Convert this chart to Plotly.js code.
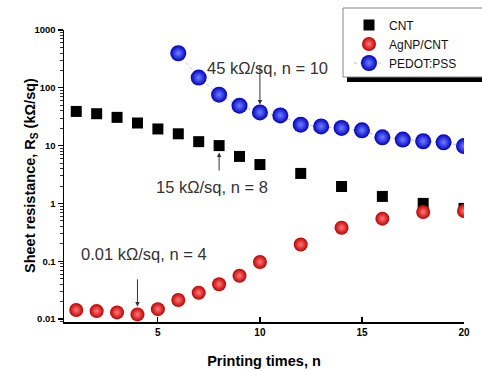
<!DOCTYPE html>
<html>
<head>
<meta charset="utf-8">
<script src="https://cdn.plot.ly/plotly-3.0.1.min.js"></script>
<style>html,body{margin:0;padding:0;background:#fff;}#chart{width:482px;height:371px;}</style>
</head>
<body>
<div id="chart"></div>
<script>
// Data
const xCNT = [1, 2, 3, 4, 5, 6, 7, 8, 9, 10, 12, 14, 16, 18, 20];
const yCNT = [39, 35.6, 30.8, 24.6, 19.4, 16, 11.7, 10, 6.5, 4.7, 3.3, 1.96, 1.32, 1.0, 0.82];

const xAg = [1, 2, 3, 4, 5, 6, 7, 8, 9, 10, 12, 14, 16, 18, 20];
const yAg = [0.0143, 0.0137, 0.013, 0.012, 0.0148, 0.0213, 0.0285, 0.04, 0.056, 0.097, 0.194, 0.38, 0.545, 0.71, 0.74];

const xPED = [6, 7, 8, 9, 10, 11, 12, 13, 14, 15, 16, 17, 18, 19, 20];
const yPED = [396, 150, 76, 49, 37.5, 33.3, 23, 21.5, 20.2, 18.4, 13.9, 12.7, 11.9, 11.4, 9.8];

const seriesNames = ['CNT', 'AgNP/CNT', 'PEDOT:PSS'];
const yTickVals = [0.01, 0.1, 1, 10, 100, 1000];
const yTickText = ['0.01', '0.1', '1', '10', '100', '1000'];
const xTickVals = [5, 10, 15, 20];

const FONT = 'Liberation Sans, Arial, sans-serif';

const traces = [
  {
    x: xCNT, y: yCNT, name: seriesNames[0], type: 'scatter', mode: 'markers',
    marker: {symbol: 'square', size: 11, color: '#000000', line: {width: 0}}
  },
  {
    x: xAg, y: yAg, name: seriesNames[1], type: 'scatter', mode: 'markers',
    marker: {symbol: 'circle', size: 14, color: '#c00000',
             gradient: {type: 'radial', color: '#ff7a7a'}, line: {width: 0}}
  },
  {
    x: xPED, y: yPED, name: seriesNames[2], type: 'scatter', mode: 'lines+markers',
    line: {color: '#c4c4c4', width: 1, dash: 'dot'},
    marker: {symbol: 'circle', size: 16, color: '#0000c0',
             gradient: {type: 'radial', color: '#7080ff'}, line: {width: 0}}
  }
];

const annFont = {family: FONT, size: 16.5, color: '#333333'};
const arrowStyle = {showarrow: true, arrowhead: 2, arrowsize: 0.9, arrowwidth: 1, arrowcolor: '#333333', font: {size: 1}};

const layout = {
  width: 482, height: 371,
  margin: {l: 64, r: 18, t: 30, b: 49, autoexpand: false},
  paper_bgcolor: '#ffffff', plot_bgcolor: '#ffffff',
  font: {family: FONT, color: '#000'},
  showlegend: true,
  legend: {
    x: 0.7125, y: 1.0668, xanchor: 'left', yanchor: 'top',
    bgcolor: 'rgba(0,0,0,0)', borderwidth: 0,
    font: {family: FONT, size: 12, color: '#111'},
    itemwidth: 30, tracegroupgap: 0
  },
  xaxis: {
    range: [0.4, 20], automargin: false,
    tickmode: 'array', tickvals: xTickVals,
    ticks: 'inside', ticklen: 5, tickwidth: 1.2, tickcolor: '#000',
    tickfont: {family: FONT, size: 10, weight: 'bold', color: '#000'},
    showline: true, linecolor: '#000', linewidth: 1.5, mirror: false,
    showgrid: false, zeroline: false,
    title: {text: 'Printing times, n', font: {family: FONT, size: 14.5, weight: 'bold', color: '#000'}, standoff: 19}
  },
  yaxis: {
    type: 'log', range: [-2.052, 3], automargin: false,
    tickmode: 'array', tickvals: yTickVals, ticktext: yTickText,
    ticks: 'outside', ticklen: 5, tickwidth: 1.2, tickcolor: '#000',
    minor: {ticks: 'outside', ticklen: 2.5, tickwidth: 0.8, tickcolor: '#000', dtick: 'D1', showgrid: false},
    tickfont: {family: FONT, size: 9.5, weight: 'bold', color: '#000'},
    showline: true, linecolor: '#000', linewidth: 1.5, mirror: false,
    showgrid: false, zeroline: false
  },
  shapes: [
    // legend shadow and frame
    {type: 'rect', xref: 'paper', yref: 'paper', x0: 0.7075, x1: 1.1, y0: 0.822, y1: 0.842,
     fillcolor: '#000000', line: {width: 0}, layer: 'above'},
    {type: 'rect', xref: 'paper', yref: 'paper', x0: 0.6975, x1: 1.1, y0: 0.839, y1: 1.0753,
     fillcolor: '#ffffff', line: {width: 1, color: '#888888'}, layer: 'above'}
  ],
  annotations: [
    {x: -0.0825, y: 0.5, xref: 'paper', yref: 'paper', xanchor: 'center', yanchor: 'middle',
     textangle: -90, showarrow: false,
     text: 'Sheet resistance, R<sub>S</sub> (k\u03A9/sq)',
     font: {family: FONT, size: 14.5, weight: 'bold', color: '#000'}},
    {x: 10.35, y: 0.9075, xref: 'x', yref: 'paper', text: '45 k\u03A9/sq, n = 10', showarrow: false, font: annFont},
    Object.assign({x: 10, y: Math.log10(yPED[4]), xref: 'x', yref: 'y', text: ' ', ax: 0, ay: -49, standoff: 8}, arrowStyle),
    {x: 7.65, y: 0.462, xref: 'x', yref: 'paper', text: '15 k\u03A9/sq, n = 8', showarrow: false, font: annFont},
    Object.assign({x: 8, y: Math.log10(yCNT[7]), xref: 'x', yref: 'y', text: ' ', ax: 0, ay: 27, standoff: 7}, arrowStyle),
    {x: 4.32, y: 0.195, xref: 'x', yref: 'paper', text: '0.01 k\u03A9/sq, n = 4', showarrow: false, font: annFont},
    Object.assign({x: 4, y: Math.log10(yAg[3]), xref: 'x', yref: 'y', text: ' ', ax: 0, ay: -37, standoff: 8}, arrowStyle)
  ]
};

Plotly.newPlot('chart', traces, layout, {displayModeBar: false, staticPlot: true});
</script>
</body>
</html>
